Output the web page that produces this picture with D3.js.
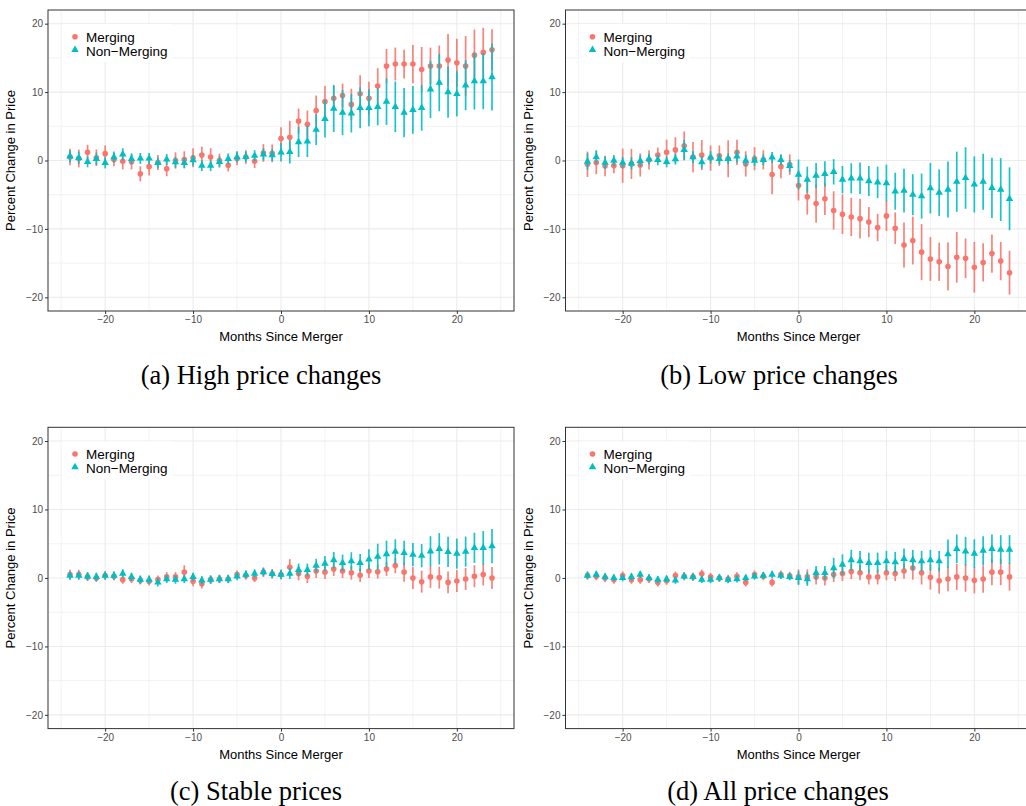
<!DOCTYPE html>
<html>
<head>
<meta charset="utf-8">
<script src="https://cdn.jsdelivr.net/npm/d3@7"></script>
<style>
  html, body { margin: 0; padding: 0; background: #fff; }
  svg { display: block; }
</style>
</head>
<body>
<svg id="chart" width="1026" height="806"></svg>
<script>
// ---------------- DATA ----------------
const months = [-24,-23,-22,-21,-20,-19,-18,-17,-16,-15,-14,-13,-12,-11,-10,-9,-8,-7,-6,-5,-4,-3,-2,-1,
  0,1,2,3,4,5,6,7,8,9,10,11,12,13,14,15,16,17,18,19,20,21,22,23,24];

const seriesNames = ["Merging", "Non\u2212Merging"];
const xTicks = [-20, -10, 0, 10, 20];
const yTicks = [-20, -10, 0, 10, 20];
const xTickLabels = ["\u221220", "\u221210", "0", "10", "20"];
const yTickLabels = ["\u221220", "\u221210", "0", "10", "20"];
const captions = ["(a) High price changes", "(b) Low price changes", "(c) Stable prices", "(d) All price changes"];
const xTitle = "Months Since Merger";
const yTitle = "Percent Change in Price";

// (a) High price changes
const highMerging = [0.5,0.3,1.2,0.4,1.0,0.15,-0.1,-0.2,-1.95,-0.9,-0.3,-1.2,0,0.15,0.4,0.8,0.5,0,-0.7,0.3,0.5,-0.1,1.1,1.05,
  3.2,3.4,5.75,5.3,7.3,8.6,9.1,9.5,8.2,9.75,9.1,10.9,13.8,14.1,14.1,14.1,13.3,13.8,13.8,14.7,14.3,13.8,15.4,15.8,16.2];
const highMergingErr = [1.2,1.3,1.1,1.2,1.2,1.0,1.2,1.1,1.1,1.3,1.1,1.1,1.2,1.2,1.4,1.2,1.3,1.0,0.9,1.0,1.0,1.0,1.3,1.3,
  1.65,2.4,1.85,2.0,2.2,2.3,1.8,1.75,2.3,2.7,2.4,2.6,2.5,2.4,2.1,2.8,3.3,2.7,3.0,3.8,3.5,4.4,3.75,3.6,3.0];
const highNonMerging = [0.6,0.4,-0.2,0.25,-0.35,0.5,0.9,0.25,0.3,0.3,-0.35,0.15,-0.25,-0.35,0.05,-0.75,-0.75,-0.2,0.25,0.5,0.55,0.7,0.9,0.8,
  1.2,1.25,2.7,2.8,4.5,6.1,7.6,7.0,6.9,7.7,7.7,7.85,8.6,7.85,7.0,7.4,7.7,10.4,11.4,10.0,9.75,11.0,11.6,11.6,12.2];
const highNonMergingErr = [0.9,0.9,0.8,0.9,0.8,0.8,0.9,0.8,0.8,0.8,0.8,0.8,0.8,0.8,0.8,0.8,0.8,0.8,0.8,0.8,0.8,0.8,0.9,0.9,
  1.35,1.7,2.2,2.3,2.25,2.75,3.45,3.3,2.8,3.0,2.7,2.7,3.4,3.7,3.6,3.5,3.35,4.2,4.2,3.75,3.3,3.65,4.15,4.1,4.9];

// (b) Low price changes
const lowMerging = [-0.55,-0.3,-0.8,-0.75,-0.75,-0.5,-0.65,0.1,0.8,1.2,1.55,2.15,0.5,0.8,0.35,0.7,0.25,1.2,-0.5,0.25,0.1,-2.05,-0.9,-0.6,
  -3.65,-5.3,-6.3,-5.6,-7.3,-7.85,-8.25,-8.5,-9.0,-9.8,-8.1,-9.9,-12.35,-11.7,-13.4,-14.4,-14.8,-15.5,-14.15,-14.3,-15.6,-14.9,-13.6,-14.7,-16.4];
const lowMergingErr = [1.85,1.7,1.5,1.1,2.5,2.2,1.7,1.4,1.1,1.85,1.85,2.1,2.2,2.2,1.85,1.5,2.7,1.85,1.85,1.7,1.4,2.9,1.7,1.5,
  2.2,2.6,2.8,2.35,2.8,2.9,2.8,2.9,2.2,2.0,2.2,2.3,3.3,3.5,4.1,3.2,2.8,3.5,3.7,2.9,3.7,2.8,2.8,2.8,3.2];
const lowNonMerging = [-0.15,0.5,-0.3,0,-0.3,-0.4,-0.05,0.2,0.1,-0.2,0.2,1.55,0.5,-0.25,0.45,0.25,0.25,0.6,0,0,0.1,0.45,0.1,-0.8,
  -2.05,-2.8,-2.2,-1.95,-1.65,-2.8,-2.6,-2.6,-3.0,-3.2,-3.3,-4.5,-4.4,-5.0,-5.2,-4.05,-4.7,-4.25,-3.1,-2.55,-3.5,-3.1,-4.0,-4.25,-5.6];
const lowNonMergingErr = [1.2,1.0,0.9,0.8,0.8,0.9,0.8,0.8,0.8,0.8,0.8,1.5,0.9,0.9,0.9,0.8,0.8,0.9,0.8,0.8,0.8,0.8,0.8,0.9,
  2.2,1.9,1.85,1.85,1.85,2.0,2.2,2.3,2.2,2.3,2.7,2.7,3.2,3.0,3.3,3.7,3.4,4.1,4.4,4.5,4.1,4.1,4.4,4.6,4.6];

// (c) Stable prices
const stableMerging = [0.5,0.5,0.15,0,0.35,0.25,-0.25,-0.15,-0.35,-0.5,-0.25,0.15,0.15,0.85,-0.5,-0.85,-0.25,-0.15,-0.15,0.5,0.35,0,0.85,0.6,
  0.5,1.55,0.65,0.25,1.0,0.85,1.3,1.0,0.75,0.4,1.0,0.9,1.3,1.8,0.85,0,-0.55,0.15,0.05,-0.65,-0.45,-0.15,0.25,0.5,0];
const stableMergingErr = [0.7,0.7,0.6,0.6,0.6,0.6,0.6,0.6,0.6,0.6,0.6,0.7,0.7,1.0,0.7,0.7,0.6,0.6,0.6,0.6,0.6,0.6,0.7,0.7,
  0.7,1.2,1.0,1.0,1.0,1.0,1.0,1.0,1.0,1.0,1.0,1.0,1.0,1.1,1.4,1.6,1.6,1.6,1.6,1.6,1.6,1.6,1.6,1.6,1.6];
const stableNonMerging = [0.35,0.35,0.25,0.15,0.35,0.35,0.65,0.15,-0.25,-0.25,-0.65,-0.15,-0.25,-0.15,0.15,-0.35,-0.25,-0.15,-0.15,0.25,0.5,0.65,0.85,0.6,
  0.5,0.65,1.2,1.2,1.8,2.1,2.6,2.2,2.45,2.2,2.7,3.1,3.5,3.85,3.65,3.4,3.25,3.9,4.25,3.8,3.55,3.85,4.4,4.4,4.65];
const stableNonMergingErr = [0.6,0.6,0.6,0.6,0.6,0.6,0.6,0.6,0.6,0.6,0.6,0.6,0.6,0.6,0.6,0.6,0.6,0.6,0.6,0.6,0.6,0.6,0.6,0.6,
  0.7,0.8,0.9,0.9,1.0,1.1,1.2,1.2,1.3,1.3,1.5,1.9,1.95,1.8,1.8,1.7,1.7,2.2,2.3,2.2,2.2,2.2,2.2,2.45,2.5];

// (d) All price changes
const allMerging = [0.35,0.25,0,-0.25,0.35,-0.25,-0.25,-0.15,-0.65,-0.4,0.35,0.25,0.15,0.6,0.15,0,-0.15,0.25,-0.65,0.5,0.25,-0.65,0.5,0.3,
  0.15,0.15,0.15,0,0.5,0.65,0.95,0.75,0.15,0.15,0.75,0.65,1.0,1.45,0.75,0.1,-0.4,-0.15,0.15,0,-0.35,-0.15,0.85,0.85,0.15];
const allMergingErr = [0.6,0.6,0.6,0.6,0.6,0.6,0.6,0.6,0.6,0.6,0.6,0.6,0.6,0.6,0.6,0.6,0.6,0.6,0.6,0.6,0.6,0.6,0.6,0.6,
  1.1,1.1,1.1,1.1,1.1,1.1,1.1,1.1,1.1,1.1,1.1,1.1,1.1,1.7,1.7,1.8,1.9,1.8,1.9,2.0,1.9,2.0,1.9,1.9,2.0];
const allNonMerging = [0.35,0.5,0.15,0,0,0.15,0.5,0,-0.25,-0.15,-0.35,0.25,0.15,-0.25,-0.25,0,-0.25,-0.15,0,0.25,0.35,0.5,0.35,0.15,
  0,-0.15,0.75,0.75,1.45,1.95,2.6,2.45,2.2,2.2,2.45,2.3,2.8,2.6,2.45,2.6,2.45,3.5,4.25,3.9,3.55,4.0,4.25,4.15,4.15];
const allNonMergingErr = [0.5,0.5,0.5,0.5,0.5,0.5,0.5,0.5,0.5,0.5,0.5,0.5,0.5,0.5,0.5,0.5,0.5,0.5,0.5,0.5,0.5,0.5,0.5,0.5,
  1.0,1.0,1.0,1.0,1.5,1.5,1.5,1.5,1.5,1.5,1.5,1.5,1.5,1.5,1.5,1.5,1.5,2.1,2.1,2.1,2.1,2.1,2.1,2.1,2.1];

// ---------------- LAYOUT ----------------
const colors = ["#F8766D", "#00BFC4"];
const panels = [
  { caption: captions[0], m: highMerging, me: highMergingErr, n: highNonMerging, ne: highNonMergingErr,
    x0: 48, x1: 514, y0: 10, y1: 311, capX: 261, capY: 384 },
  { caption: captions[1], m: lowMerging, me: lowMergingErr, n: lowNonMerging, ne: lowNonMergingErr,
    x0: 565.5, x1: 1031.5, y0: 10, y1: 311, capX: 779, capY: 384 },
  { caption: captions[2], m: stableMerging, me: stableMergingErr, n: stableNonMerging, ne: stableNonMergingErr,
    x0: 48, x1: 514, y0: 427.3, y1: 728.6, capX: 256, capY: 800 },
  { caption: captions[3], m: allMerging, me: allMergingErr, n: allNonMerging, ne: allNonMergingErr,
    x0: 565.5, x1: 1031.5, y0: 427.3, y1: 728.6, capX: 778, capY: 800 }
];

const svg = d3.select("#chart");
const sans = "'Liberation Sans', Arial, Helvetica, sans-serif";
const serif = "'Liberation Serif', 'Times New Roman', Times, serif";

panels.forEach(p => {
  const x = d3.scaleLinear().domain([-26.5, 26.5]).range([p.x0, p.x1]);
  const y = d3.scaleLinear().domain([-22, 22]).range([p.y1, p.y0]);
  const g = svg.append("g");

  g.append("rect").attr("x", p.x0).attr("y", p.y0)
    .attr("width", p.x1 - p.x0).attr("height", p.y1 - p.y0).attr("fill", "#fff");

  const xMinor = [-25, -15, -5, 5, 15, 25];
  const yMinor = [-15, -5, 5, 15];
  g.selectAll(".gxm").data(xMinor).join("line")
    .attr("x1", d => x(d)).attr("x2", d => x(d)).attr("y1", p.y0).attr("y2", p.y1)
    .attr("stroke", "#f0f0f0").attr("stroke-width", 0.9);
  g.selectAll(".gym").data(yMinor).join("line")
    .attr("y1", d => y(d)).attr("y2", d => y(d)).attr("x1", p.x0).attr("x2", p.x1)
    .attr("stroke", "#f0f0f0").attr("stroke-width", 0.9);
  g.selectAll(".gx").data(xTicks).join("line")
    .attr("x1", d => x(d)).attr("x2", d => x(d)).attr("y1", p.y0).attr("y2", p.y1)
    .attr("stroke", "#ebebeb").attr("stroke-width", 1.1);
  g.selectAll(".gy").data(yTicks).join("line")
    .attr("y1", d => y(d)).attr("y2", d => y(d)).attr("x1", p.x0).attr("x2", p.x1)
    .attr("stroke", "#ebebeb").attr("stroke-width", 1.1);

  const sets = [
    { est: p.m, err: p.me, color: colors[0], shape: "circle" },
    { est: p.n, err: p.ne, color: colors[1], shape: "triangle" }
  ];
  sets.forEach(s => {
    const rows = months.map((mo, i) => ({ mo, v: s.est[i], e: s.err[i] }));
    const sg = g.append("g");
    sg.selectAll("line").data(rows).join("line")
      .attr("x1", d => x(d.mo)).attr("x2", d => x(d.mo))
      .attr("y1", d => y(d.v - d.e)).attr("y2", d => y(d.v + d.e))
      .attr("stroke", s.color).attr("stroke-width", 1.7).attr("stroke-opacity", 0.9);
    if (s.shape === "circle") {
      sg.selectAll("circle").data(rows).join("circle")
        .attr("cx", d => x(d.mo)).attr("cy", d => y(d.v)).attr("r", 2.8)
        .attr("fill", s.color);
    } else {
      const tri = d3.symbol().type(d3.symbolTriangle).size(24);
      sg.selectAll("path").data(rows).join("path")
        .attr("d", tri)
        .attr("transform", d => `translate(${x(d.mo)},${y(d.v)})`)
        .attr("fill", s.color);
    }
  });

  g.append("rect").attr("x", p.x0).attr("y", p.y0)
    .attr("width", p.x1 - p.x0).attr("height", p.y1 - p.y0)
    .attr("fill", "none").attr("stroke", "#333333").attr("stroke-width", 1);

  const xAxis = d3.axisBottom(x).tickValues(xTicks).tickSize(3).tickPadding(2)
    .tickFormat((d, i) => xTickLabels[i]);
  const ax = g.append("g").attr("transform", `translate(0,${p.y1})`).call(xAxis);
  ax.select(".domain").remove();
  ax.selectAll(".tick line").attr("stroke", "#333333");
  ax.selectAll(".tick text").attr("fill", "#4d4d4d").style("font-family", sans).style("font-size", "10px");

  const yAxis = d3.axisLeft(y).tickValues(yTicks).tickSize(3).tickPadding(2)
    .tickFormat((d, i) => yTickLabels[i]);
  const ay = g.append("g").attr("transform", `translate(${p.x0},0)`).call(yAxis);
  ay.select(".domain").remove();
  ay.selectAll(".tick line").attr("stroke", "#333333");
  ay.selectAll(".tick text").attr("fill", "#4d4d4d").style("font-family", sans).style("font-size", "10px");

  g.append("text").attr("x", x(0)).attr("y", p.y1 + 30)
    .attr("text-anchor", "middle").style("font-family", sans).style("font-size", "13px")
    .attr("fill", "#000").text(xTitle);
  const ty = (p.y0 + p.y1) / 2;
  const tx = p.x0 - 33;
  g.append("text").attr("transform", `translate(${tx},${ty}) rotate(-90)`)
    .attr("text-anchor", "middle").style("font-family", sans).style("font-size", "13px")
    .attr("fill", "#000").text(yTitle);

  const lg = g.append("g");
  lg.append("rect").attr("x", p.x0 + 14).attr("y", p.y0 + 14).attr("width", 110).attr("height", 38)
    .attr("fill", "#fff");
  lg.append("circle").attr("cx", p.x0 + 27).attr("cy", p.y0 + 26.7).attr("r", 2.8).attr("fill", colors[0]);
  lg.append("path").attr("d", d3.symbol().type(d3.symbolTriangle).size(24)())
    .attr("transform", `translate(${p.x0 + 27},${p.y0 + 39.8})`).attr("fill", colors[1]);
  lg.append("text").attr("x", p.x0 + 38).attr("y", p.y0 + 32)
    .style("font-family", sans).style("font-size", "13.5px").attr("fill", "#000").text(seriesNames[0]);
  lg.append("text").attr("x", p.x0 + 38).attr("y", p.y0 + 45.7)
    .style("font-family", sans).style("font-size", "13.5px").attr("fill", "#000").text(seriesNames[1]);

  svg.append("text").attr("x", p.capX).attr("y", p.capY).attr("text-anchor", "middle")
    .style("font-family", serif).style("font-size", "26.5px").attr("fill", "#000").text(p.caption);
});
</script>
</body>
</html>
